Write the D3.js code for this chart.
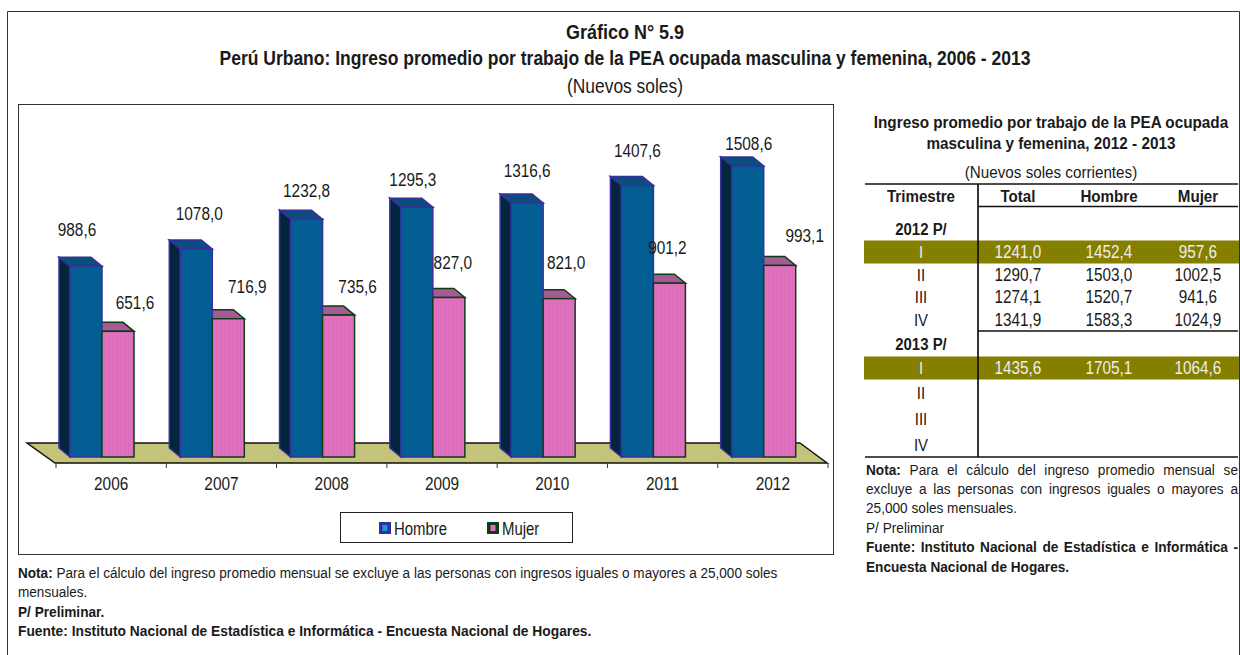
<!DOCTYPE html>
<html>
<head>
<meta charset="utf-8">
<style>
body { margin: 0; background: #fff; }
text { font-family: "Liberation Sans", Arial, sans-serif; fill: #1a1a1a; }
.b { font-weight: bold; }
</style>
</head>
<body>
<script src="https://d3js.org/d3.v7.min.js"></script>
<script>

var width = 1240,
    height = 655;

// chart values
var years = ["2006", "2007", "2008", "2009", "2010", "2011", "2012"];
var hombre = [988.6, 1078.0, 1232.8, 1295.3, 1316.6, 1407.6, 1508.6];
var mujer = [651.6, 716.9, 735.6, 827.0, 821.0, 901.2, 993.1];

// table values
var tableCols = ["Total", "Hombre", "Mujer"];
var tableRows = ["2012 P/", "I", "II", "III", "IV", "2013 P/", "I", "II", "III", "IV"];
var tableTotal = [null, 1241.0, 1290.7, 1274.1, 1341.9, null, 1435.6, null, null, null];
var tableHombre = [null, 1452.4, 1503.0, 1520.7, 1583.3, null, 1705.1, null, null, null];
var tableMujer = [null, 957.6, 1002.5, 941.6, 1024.9, null, 1064.6, null, null, null];

// the labels were hand placed in the original, so nudge them off the bars
var hombreNudge = [[-9, -37], [3, -36], [0, -29], [-4, -28], [0, -33], [0, -35], [1, -23]];
var mujerNudge = [[17, -29], [19, -32], [19, -29], [4, -35], [7, -36], [-2, -36], [25, -30]];

var fmt = function(v) { return v.toFixed(1).replace(".", ","); };

var svg = d3.select("body").append("svg")
    .attr("width", width)
    .attr("height", height)
    .style("display", "block");

var defs = svg.append("defs");

function stripes(id, base, stripe) {
    var p = defs.append("pattern")
        .attr("id", id)
        .attr("width", 4).attr("height", 4)
        .attr("patternUnits", "userSpaceOnUse");
    p.append("rect").attr("width", 4).attr("height", 4).attr("fill", base);
    p.append("rect").attr("width", 1).attr("height", 4).attr("fill", stripe);
}
stripes("blueFront", "#005f96", "#035a8c");
stripes("pinkFront", "#e070c0", "#da6cb8");

// no narrow font here, so squeeze the text sideways round its own x
function squeeze(t, k) {
    t.each(function() {
        var px = +this.getAttribute("x") || 0;
        this.setAttribute("transform", "translate(" + px + ",0) scale(" + k + ",1) translate(" + (-px) + ",0)");
    });
    return t;
}

function label(parent, px, py, size, k, str, bold, anchor) {
    var t = parent.append("text")
        .attr("x", px).attr("y", py)
        .attr("font-size", size)
        .attr("text-anchor", anchor || "middle")
        .attr("class", bold ? "b" : null)
        .text(str);
    return squeeze(t, k);
}

// outer frames
svg.append("path")
    .attr("d", "M7.5,655V11.5H1239.5V655")
    .attr("fill", "none").attr("stroke", "#333").attr("stroke-width", 1);
svg.append("rect")
    .attr("x", 18.5).attr("y", 104.5).attr("width", 815).attr("height", 450)
    .attr("fill", "#fff").attr("stroke", "#333");

// titles
label(svg, 625, 39, 20, 0.9, "Gráfico N° 5.9", true);
label(svg, 625, 65, 20, 0.875, "Perú Urbano: Ingreso promedio por trabajo de la PEA ocupada masculina y femenina, 2006 - 2013", true);
label(svg, 625, 93, 20, 0.87, "(Nuevos soles)");

// chart
var x = d3.scaleBand().domain(years).range([56, 828]);
var y = d3.scaleLinear().domain([0, 1508.6]).range([457, 166]);
var barW = 32, dx = 11, dy = 9, inset = 14;

var floor = svg.append("g");
floor.append("path")
    .attr("d", "M27,443L55,463H827L800,443Z")
    .attr("fill", "#c3c37a");
floor.append("path")
    .attr("d", "M800,443H27L55,463H827L800,443")
    .attr("fill", "none").attr("stroke", "#111").attr("stroke-width", 1.5);

var leftOf = function(i, offset) { return x(years[i]) + inset + offset; };

function topFaces(values, offset, fill, line) {
    svg.append("g").selectAll("path").data(values).enter().append("path")
        .attr("d", function(d, i) {
            return "M" + leftOf(i, offset) + "," + y(d) + "l" + (-dx) + "," + (-dy) + "h" + barW + "l" + dx + "," + dy + "Z";
        })
        .attr("fill", fill).attr("stroke", line).attr("stroke-width", 1.5);
}

function sideFaces(values, offset, fill, line) {
    svg.append("g").selectAll("path").data(values).enter().append("path")
        .attr("d", function(d, i) {
            return "M" + leftOf(i, offset) + "," + y(d) + "l" + (-dx) + "," + (-dy) + "V" + (y(0) - dy) + "l" + dx + "," + dy + "Z";
        })
        .attr("fill", fill).attr("stroke", line).attr("stroke-width", 1.5);
}

function frontFaces(values, offset, fill, line) {
    svg.append("g").selectAll("rect").data(values).enter().append("rect")
        .attr("x", function(d, i) { return leftOf(i, offset); })
        .attr("y", function(d) { return y(d); })
        .attr("width", barW)
        .attr("height", function(d) { return y(0) - y(d); })
        .attr("fill", fill).attr("stroke", line).attr("stroke-width", 1.5);
}

function valueLabels(values, offset, nudge) {
    var t = svg.append("g").selectAll("text").data(values).enter().append("text")
        .attr("x", function(d, i) { return leftOf(i, offset) + barW / 2 + nudge[i][0]; })
        .attr("y", function(d, i) { return y(d) + nudge[i][1]; })
        .attr("dy", "0.35em")
        .attr("text-anchor", "middle")
        .attr("font-size", 19)
        .text(fmt);
    squeeze(t, 0.81);
}

// pink top sits behind the blue bar, pink front in front of it
topFaces(mujer, barW, "#a85a94", "#0d3d16");
topFaces(hombre, 0, "#0a4f7c", "#3a2f9e");
sideFaces(hombre, 0, "#03253e", "#3a2f9e");
frontFaces(hombre, 0, "url(#blueFront)", "#3a2f9e");
frontFaces(mujer, barW, "url(#pinkFront)", "#0d3d16");
valueLabels(hombre, 0, hombreNudge);
valueLabels(mujer, barW, mujerNudge);

// x axis, ticks sit between the years
var axis = svg.append("g").attr("transform", "translate(0,463)")
    .call(d3.axisBottom(x).tickSize(0).tickPadding(14));
axis.select(".domain").remove();
axis.attr("font-family", null).attr("font-size", null);
axis.selectAll("text").attr("font-size", 19).call(squeeze, 0.81);
axis.selectAll(".sep").data(d3.range(years.length + 1)).enter().append("line")
    .attr("class", "sep")
    .attr("x1", function(i) { return 56 + i * x.step(); })
    .attr("x2", function(i) { return 56 + i * x.step(); })
    .attr("y1", 0).attr("y2", 5)
    .attr("stroke", "#333");

// legend
svg.append("rect")
    .attr("x", 340.5).attr("y", 512.5).attr("width", 232).attr("height", 30)
    .attr("fill", "#fff").attr("stroke", "#222");
var legendItems = [["Hombre", 379, "#2f2f9e", "#0aa0d8"], ["Mujer", 487, "#0d3d16", "#e070c0"]];
var lg = svg.selectAll(".lg").data(legendItems).enter().append("g").attr("class", "lg");
lg.append("rect")
    .attr("x", function(d) { return d[1]; }).attr("y", 522)
    .attr("width", 12).attr("height", 12)
    .attr("fill", function(d) { return d[2]; });
lg.append("rect")
    .attr("x", function(d) { return d[1] + 3.5; }).attr("y", 525)
    .attr("width", 5).attr("height", 6)
    .attr("fill", function(d) { return d[3]; });
lg.append("text")
    .attr("x", function(d) { return d[1] + 15; }).attr("y", 535)
    .attr("font-size", 18)
    .text(function(d) { return d[0]; })
    .call(squeeze, 0.83);

// notes, parts are [text, bold]
function note(px, py, size, k, parts, justifyTo) {
    var t = svg.append("text").attr("x", px).attr("y", py).attr("font-size", size);
    parts.forEach(function(p) {
        t.append("tspan").attr("class", p[1] ? "b" : null).text(p[0]);
    });
    squeeze(t, k);
    if (justifyTo) {
        var str = t.text();
        var gaps = str.split(" ").length - 1;
        t.attr("word-spacing", (justifyTo / k - t.node().getComputedTextLength()) / gaps);
    }
    return t;
}
note(18, 578, 15, 0.905, [["Nota:", 1], [" Para el cálculo del ingreso promedio mensual se excluye a las personas con ingresos iguales o mayores a 25,000 soles", 0]]);
note(18, 597, 15, 0.905, [["mensuales.", 0]]);
note(18, 617, 15, 0.91, [["P/ Preliminar.", 1]]);
note(18, 636, 15, 0.92, [["Fuente: Instituto Nacional de Estadística e Informática - Encuesta Nacional de Hogares.", 1]]);

// right table
var rt = svg.append("g");
label(rt, 1051, 128, 17, 0.9, "Ingreso promedio por trabajo de la PEA ocupada", true);
label(rt, 1051, 149, 17, 0.9, "masculina y femenina, 2012 - 2013", true);
label(rt, 1051, 178, 17, 0.895, "(Nuevos soles corrientes)");

var rowY = [229, 252, 275, 297, 320, 344, 368, 393, 419, 445];
var colX = [1018, 1109, 1198];
var tableCells = [tableTotal, tableHombre, tableMujer];

rowY.forEach(function(ry, i) {
    if (tableRows[i] === "I") {
        rt.append("rect").attr("x", 864).attr("y", ry - 11.5).attr("width", 375).attr("height", 23).attr("fill", "#857f00");
    }
});

function rule(x1, y1, x2, y2) {
    rt.append("line").attr("x1", x1).attr("y1", y1).attr("x2", x2).attr("y2", y2)
        .attr("stroke", "#111").attr("stroke-width", 1.7);
}
rule(865, 184, 1238, 184);
rule(978, 206.5, 1238, 206.5);
rule(978, 331, 1238, 331);
rule(865, 457, 1238, 457);
rule(978, 184, 978, 457);

label(rt, 921, 202, 17, 0.89, "Trimestre", true);
tableCols.forEach(function(c, i) {
    label(rt, colX[i], 202, 17, 0.89, c, true);
});
tableRows.forEach(function(r, i) {
    var band = r === "I";
    label(rt, 921, rowY[i] + 6, 17, 0.88, r, r.length > 3)
        .style("fill", band ? "#eee" : null);
    tableCells.forEach(function(col, j) {
        if (col[i] === null) return;
        label(rt, colX[j], rowY[i] + 6, 18, 0.85, fmt(col[i]))
            .style("fill", band ? "#eee" : null);
    });
});

// right notes, some lines are justified in the original
note(866, 475, 15, 0.91, [["Nota:", 1], [" Para el cálculo del ingreso promedio mensual se", 0]], 372);
note(866, 494, 15, 0.91, [["excluye a las personas con ingresos iguales o mayores a", 0]], 372);
note(866, 513, 15, 0.91, [["25,000 soles mensuales.", 0]]);
note(866, 533, 15, 0.91, [["P/ Preliminar", 0]]);
note(866, 552, 15, 0.91, [["Fuente: Instituto Nacional de Estadística e Informática -", 1]], 372);
note(866, 572, 15, 0.91, [["Encuesta Nacional de Hogares.", 1]]);

</script>
</body>
</html>
